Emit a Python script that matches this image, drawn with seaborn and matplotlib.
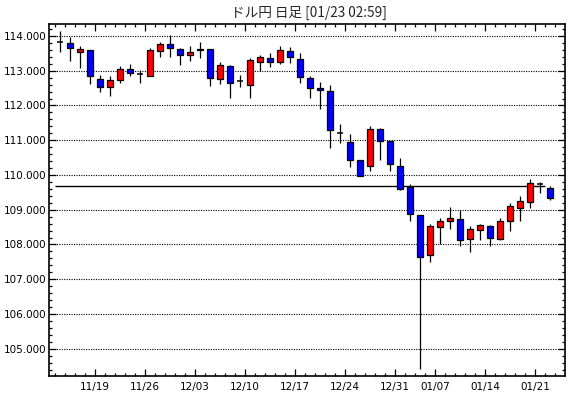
import matplotlib
matplotlib.use("Agg")
import matplotlib.pyplot as plt
from matplotlib.ticker import FixedLocator, MultipleLocator, FuncFormatter
import numpy as np
import pandas as pd
import seaborn as sns


# Daily USD/JPY candles
dates = [
    "2018-11-13", "2018-11-14", "2018-11-15", "2018-11-16",
    "2018-11-19", "2018-11-20", "2018-11-21", "2018-11-22", "2018-11-23",
    "2018-11-26", "2018-11-27", "2018-11-28", "2018-11-29", "2018-11-30",
    "2018-12-03", "2018-12-04", "2018-12-05", "2018-12-06", "2018-12-07",
    "2018-12-10", "2018-12-11", "2018-12-12", "2018-12-13", "2018-12-14",
    "2018-12-17", "2018-12-18", "2018-12-19", "2018-12-20", "2018-12-21",
    "2018-12-24", "2018-12-25", "2018-12-26", "2018-12-27", "2018-12-28",
    "2018-12-31", "2019-01-02", "2019-01-03", "2019-01-04",
    "2019-01-07", "2019-01-08", "2019-01-09", "2019-01-10", "2019-01-11",
    "2019-01-14", "2019-01-15", "2019-01-16", "2019-01-17", "2019-01-18",
    "2019-01-21", "2019-01-22",
]
opens = [
    113.82, 113.81, 113.53, 113.59,
    112.75, 112.52, 112.72, 113.04, 112.92,
    112.86, 113.56, 113.77, 113.62, 113.44,
    113.60, 113.62, 112.75, 113.13, 112.70,
    112.60, 113.24, 113.36, 113.24, 113.56,
    113.33, 112.78, 112.49, 112.41, 111.20,
    110.94, 110.42, 110.25, 111.31, 110.97,
    110.25, 109.65, 108.84, 107.69,
    108.49, 108.69, 108.72, 108.15, 108.41,
    108.52, 108.15, 108.67, 109.04, 109.21,
    109.73, 109.64,
]
highs = [
    114.14, 113.98, 113.71, 113.60,
    112.87, 112.85, 113.14, 113.19, 113.01,
    113.65, 113.83, 114.03, 113.65, 113.70,
    113.83, 113.62, 113.25, 113.16, 112.89,
    113.36, 113.44, 113.50, 113.70, 113.67,
    113.50, 112.84, 112.67, 112.59, 111.47,
    111.18, 110.42, 111.41, 111.34, 110.97,
    110.50, 109.73, 108.86, 108.59,
    108.75, 109.07, 108.98, 108.52, 108.58,
    108.55, 108.75, 109.18, 109.39, 109.88,
    109.79, 109.68,
]
lows = [
    113.55, 113.29, 113.09, 112.62,
    112.39, 112.27, 112.64, 112.86, 112.66,
    112.86, 113.40, 113.40, 113.17, 113.29,
    113.36, 112.57, 112.63, 112.22, 112.54,
    112.22, 112.98, 113.12, 113.19, 113.21,
    112.66, 112.22, 111.91, 110.78, 110.93,
    110.24, 109.98, 110.12, 110.44, 110.12,
    109.56, 108.68, 104.43, 107.50,
    108.00, 108.44, 107.96, 107.77, 108.14,
    107.96, 108.12, 108.38, 108.67, 109.04,
    109.47, 109.27,
]
closes = [
    113.82, 113.65, 113.62, 112.86,
    112.52, 112.72, 113.04, 112.93, 112.92,
    113.59, 113.77, 113.65, 113.44, 113.53,
    113.62, 112.78, 113.16, 112.64, 112.70,
    113.30, 113.39, 113.24, 113.59, 113.39,
    112.81, 112.49, 112.44, 111.29, 111.20,
    110.44, 109.98, 111.33, 110.97, 110.31,
    109.59, 108.87, 107.65, 108.52,
    108.69, 108.75, 108.12, 108.44, 108.55,
    108.18, 108.69, 109.10, 109.24, 109.76,
    109.73, 109.33,
]
ref_price = 109.68
ref_last = "2019-01-21"
title = "ドル円 日足 [01/23 02:59]"

df = pd.DataFrame({"date": pd.to_datetime(dates), "open": opens, "high": highs,
                   "low": lows, "close": closes})
df["pos"] = np.arange(len(df))
df["doji"] = (df["close"] - df["open"]).abs() < 0.005
df["color"] = np.where(df["close"] >= df["open"], "#ff0000", "#0000ff")

sns.set_theme(style="ticks")
plt.rcParams["font.family"] = ["DejaVu Sans"]

fig = plt.figure(figsize=(5.7, 3.98), dpi=100)
ax = fig.add_axes([49 / 570, 22.5 / 398, 516 / 570, 351.5 / 398])

# grid lines
for v in range(105, 115):
    ax.axhline(v, color="black", lw=0.8, ls=(0, (1, 1.2)), zorder=0)

# reference line
last_pos = df.loc[df["date"] == pd.Timestamp(ref_last), "pos"].iloc[0]
ax.hlines(ref_price, -0.5, last_pos + 0.5, color="black", lw=1.0, zorder=1)

# wicks
ax.vlines(df["pos"], df["low"], df["high"], color="black", lw=0.9, zorder=2)

# bodies
body = df[~df["doji"]]
ax.bar(body["pos"], (body["close"] - body["open"]).abs(),
       bottom=body[["open", "close"]].min(axis=1), width=0.62,
       color=body["color"], edgecolor="black", linewidth=0.9, zorder=3)
doji = df[df["doji"]]
ax.hlines(doji["open"], doji["pos"] - 0.32, doji["pos"] + 0.32,
          color="black", lw=1.1, zorder=3)

ax.set_xlim(-1.1, len(df) + 0.5)
ax.set_ylim(104.23, 114.345)

# x ticks: week starts (Mondays) labelled
mondays = df[df["date"].dt.dayofweek == 0]
ax.xaxis.set_major_locator(FixedLocator(mondays["pos"] - 0.5))
ax.set_xticklabels(mondays["date"].dt.strftime("%m/%d"))
ax.xaxis.set_minor_locator(FixedLocator(np.arange(-0.5, len(df) + 0.5)))
ax.yaxis.set_major_locator(MultipleLocator(1))
ax.yaxis.set_minor_locator(MultipleLocator(0.2))
ax.yaxis.set_major_formatter(FuncFormatter(lambda v, p: f"{v:.3f}"))

ax.tick_params(which="both", direction="in", top=True, right=True,
               colors="black", width=0.9, labelsize=7.5)
ax.tick_params(which="major", length=5)
ax.tick_params(which="minor", length=2.5)
ax.tick_params(axis="x", pad=5)
ax.tick_params(axis="y", pad=2)

for s in ax.spines.values():
    s.set_color("black")
    s.set_linewidth(1.2)

fig.text(309 / 570, 1 - 12.5 / 398, title, ha="center", va="center",
         fontsize=9.8, family=["Noto Sans CJK JP", "DejaVu Sans"])

fig.savefig("out.png", dpi=100, facecolor="white")
